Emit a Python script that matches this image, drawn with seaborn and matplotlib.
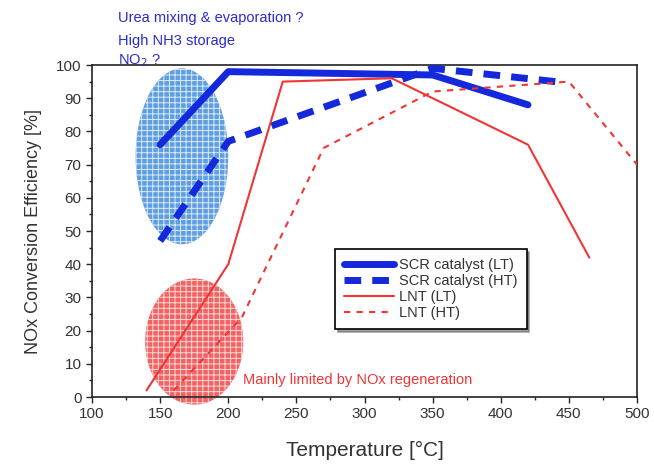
import matplotlib
matplotlib.use("Agg")
import matplotlib.pyplot as plt
from matplotlib.patches import Ellipse
import pandas as pd
import seaborn as sns

# data
scr_lt_t = [150, 200, 350, 420]
scr_lt_eff = [76, 98, 97, 88]
scr_ht_t = [150, 200, 350, 440]
scr_ht_eff = [47, 77, 99, 95]
lnt_lt_t = [140, 200, 240, 320, 420, 465]
lnt_lt_eff = [2, 40, 95, 96, 76, 42]
lnt_ht_t = [160, 210, 270, 350, 450, 500]
lnt_ht_eff = [2, 24, 75, 92, 95, 70]

series = [
    ("SCR catalyst (LT)", scr_lt_t, scr_lt_eff),
    ("SCR catalyst (HT)", scr_ht_t, scr_ht_eff),
    ("LNT (LT)", lnt_lt_t, lnt_lt_eff),
    ("LNT (HT)", lnt_ht_t, lnt_ht_eff),
]
frames = []
for name, t, e in series:
    frames.append(pd.DataFrame({"Temperature": t, "Efficiency": e, "name": name}))
df = pd.concat(frames, ignore_index=True)

sns.set_style("ticks")
plt.rcParams['font.family'] = ['Liberation Sans', 'DejaVu Sans']
plt.rcParams['hatch.linewidth'] = 0.7

blue = "#1428dc"
red = "#f03535"
styles = {
    "SCR catalyst (LT)": dict(color=blue, lw=5, ls="-"),
    "SCR catalyst (HT)": dict(color=blue, lw=5, ls=(0, (2.4, 1.6))),
    "LNT (LT)": dict(color=red, lw=1.5, ls="-"),
    "LNT (HT)": dict(color=red, lw=1.5, ls=(0, (3, 3))),
}

fig = plt.figure(figsize=(6.54, 4.70), dpi=100)
ax = fig.add_axes([0.1407, 0.1553, 0.8333, 0.7064])

# hatched ellipses
ax.add_patch(Ellipse((166, 72.5), 68, 53, facecolor="#5f9fe0", edgecolor="#dceaf8",
                     hatch="+++", lw=0, zorder=1))
ax.add_patch(Ellipse((175, 16.7), 72, 38, facecolor="#f26464", edgecolor="#fbd8d8",
                     hatch="+++", lw=0, zorder=1, clip_on=False))

for name, st in styles.items():
    sub = df[df["name"] == name]
    sns.lineplot(data=sub, x="Temperature", y="Efficiency", ax=ax, label=name,
                 color=st["color"], linewidth=st["lw"], linestyle=st["ls"],
                 sort=False, zorder=3)

ax.set_xlim(100, 500)
ax.set_ylim(0, 100)
ax.set_xticks(range(100, 501, 50))
ax.set_xticks(range(100, 501, 25), minor=True)
ax.set_yticks(range(0, 101, 10))
ax.set_yticks(range(0, 101, 5), minor=True)
ax.tick_params(axis="both", which="major", labelsize=11, labelcolor="#333333",
               length=4, width=1, direction="out")
ax.tick_params(axis="both", which="minor", length=2.5, width=1, direction="out")
for sp in ax.spines.values():
    sp.set_visible(True)
    sp.set_linewidth(1.2)
    sp.set_color("#222222")

ax.set_xlabel("Temperature [°C]", fontsize=15, color="#333333", labelpad=14)
ax.set_ylabel("NOx Conversion Efficiency [%]", fontsize=13, color="#333333", labelpad=10)

leg = ax.legend(loc="upper left", bbox_to_anchor=(0.433, 0.468), fontsize=10.5,
                frameon=True, fancybox=False, shadow=True, framealpha=1,
                edgecolor="black", handlelength=3.4, borderpad=0.6,
                labelspacing=0.15, handletextpad=0.4)
leg.get_frame().set_linewidth(1.2)
for txt in leg.get_texts():
    txt.set_color("#333333")

tcol = "#2a2ad0"
fig.text(118 / 654, 1 - 18 / 470, "Urea mixing & evaporation ?", color=tcol,
         fontsize=10.5, va="center", ha="left")
fig.text(118 / 654, 1 - 41 / 470, "High NH3 storage", color=tcol,
         fontsize=10.5, va="center", ha="left")
fig.text(118 / 654, 1 - 61 / 470, "NO$_2$ ?", color=tcol,
         fontsize=10.5, va="center", ha="left")
ax.text(211, 5, "Mainly limited by NOx regeneration", color=red,
        fontsize=10.5, va="center", ha="left", zorder=4)

fig.savefig("out.png", dpi=100)
